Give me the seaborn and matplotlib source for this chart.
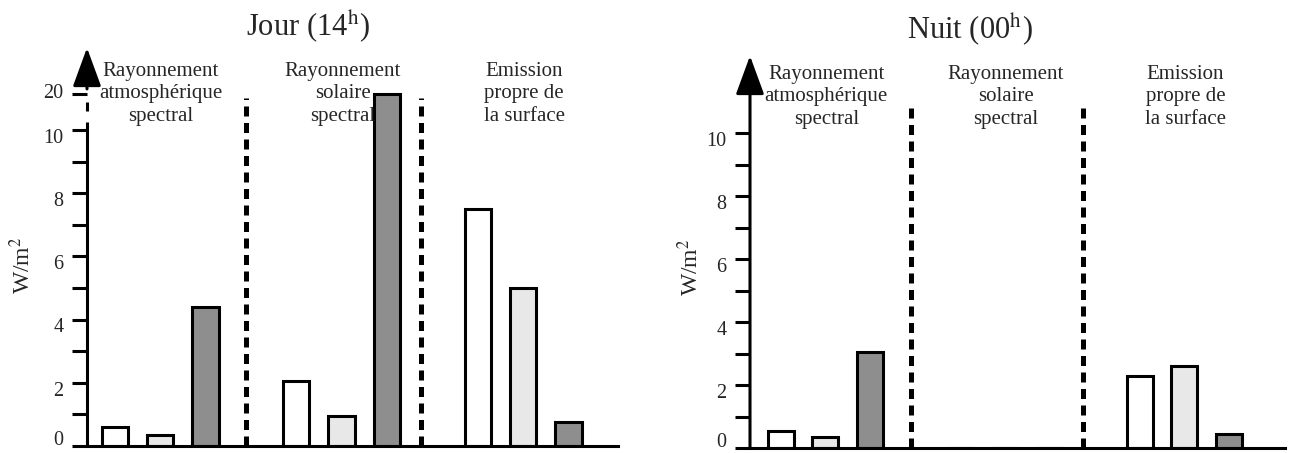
import seaborn as sns
import matplotlib.pyplot as plt
import pandas as pd
import numpy as np
from matplotlib.transforms import ScaledTranslation

# Données (W/m²)
series = ["s1", "s2", "s3"]
series_colors = ["white", "#e8e8e8", "#8e8e8e"]
group_labels = ["Rayonnement\natmosphérique\nspectral",
                "Rayonnement\nsolaire\nspectral",
                "Emission\npropre de\nla surface"]
jour_values = [0.6, 0.35, 4.4, 2.05, 0.95, 20, 7.5, 5.0, 0.76]
nuit_values = [0.55, 0.35, 3.05, 0, 0, 0, 2.3, 2.6, 0.45]
tick_values = [0, 1, 2, 3, 4, 5, 6, 7, 8, 9, 10]
tick_labels = ["0", "", "2", "", "4", "", "6", "", "8", "", "10"]

BREAK_Y = 11.15   # position de la graduation "20" (axe coupé)
YMAX = 12.7

sns.set_theme(style="white")
plt.rcParams["font.family"] = ["Liberation Serif", "DejaVu Serif"]
plt.rcParams["mathtext.fontset"] = "stix"


def make_df(values):
    rows = []
    for i, v in enumerate(values):
        g, b = i // 3, i % 3
        h = v if v <= 10.5 else BREAK_Y
        rows.append({"pos": g * 4 + b, "series": series[b], "value": v, "height": h})
    return pd.DataFrame(rows)


def draw_panel(ax, values, xlim, broken, tip):
    df = make_df(values)
    sns.barplot(data=df, x="pos", y="height", hue="series", palette=series_colors,
                native_scale=True, dodge=False, width=0.58, edgecolor="black",
                linewidth=2.2, errorbar=None, legend=False, ax=ax)
    ax.set_xlim(*xlim)
    ax.set_ylim(0, YMAX)
    ax.set_xlabel("")
    ax.set_ylabel("")
    ax.set_xticks([])
    sns.despine(ax=ax, left=True)
    ax.spines["bottom"].set_color("black")
    ax.spines["bottom"].set_linewidth(2.2)

    x0 = xlim[0]
    yt = list(tick_values) + ([BREAK_Y] if broken else [])
    ax.set_yticks(yt)
    ax.set_yticklabels([])
    ax.tick_params(axis="y", direction="out", length=11, width=2.2, color="black", left=True)

    # étiquettes des graduations
    trans = ax.get_yaxis_transform()
    for v, lab in zip(tick_values, tick_labels):
        if not lab:
            continue
        dy = 4 if v == 0 else -6
        off = ScaledTranslation(-17 / 72, dy / 72, ax.figure.dpi_scale_trans)
        ax.text(0, v, lab, transform=trans + off, ha="right", va="center", fontsize=14.5)
    if broken:
        off = ScaledTranslation(-17 / 72, 0, ax.figure.dpi_scale_trans)
        ax.text(0, BREAK_Y, "20", transform=trans + off, ha="right", va="center", fontsize=14.5)

    # axe vertical avec flèche
    arrow = dict(arrowstyle="-|>,head_length=0.6,head_width=0.22", color="black",
                 lw=2.2, mutation_scale=40, shrinkA=0, shrinkB=0)
    if broken:
        ax.plot([x0, x0], [0, 10.25], color="black", lw=2.2, clip_on=False, solid_capstyle="butt")
        ax.plot([x0, x0], [10.6, 10.9], color="black", lw=2.2, clip_on=False, solid_capstyle="butt")
        ax.annotate("", xy=(x0, tip), xytext=(x0, 11.3), arrowprops=arrow, annotation_clip=False)
    else:
        ax.annotate("", xy=(x0, tip), xytext=(x0, 0), arrowprops=arrow, annotation_clip=False)

    # séparateurs en tirets
    ax.vlines([2.9, 6.75], 0, 11.0, colors="black", linewidth=3.6,
              linestyles=[(0, (2.0, 1.3))])

    # titres des groupes
    for g, lab in enumerate(group_labels):
        ax.text(g * 4 + 1.02, 11.15, lab, ha="center", va="center", fontsize=15,
                linespacing=1.25)


fig = plt.figure(figsize=(12.95, 4.53), dpi=100)
ax1 = fig.add_axes([87 / 1295, 7 / 453, 531 / 1295, YMAX * 31.6 / 453])
ax2 = fig.add_axes([750 / 1295, 5 / 453, 535 / 1295, YMAX * 31.5 / 453])

draw_panel(ax1, jour_values, (-0.61, 11.09), True, 12.6)
draw_panel(ax2, nuit_values, (-0.68, 11.24), False, 12.45)

fig.text(308 / 1295, 1 - 27 / 453, "Jour (14$^{\\mathrm{h}}$)", ha="center", va="center", fontsize=22)
fig.text(970 / 1295, 1 - 30 / 453, "Nuit (00$^{\\mathrm{h}}$)", ha="center", va="center", fontsize=22)
fig.text(22 / 1295, 1 - 265 / 453, "W/m$^2$", rotation=90, ha="center", va="center", fontsize=17)
fig.text(690 / 1295, 1 - 267 / 453, "W/m$^2$", rotation=90, ha="center", va="center", fontsize=17)

fig.savefig("out.png", dpi=100)
